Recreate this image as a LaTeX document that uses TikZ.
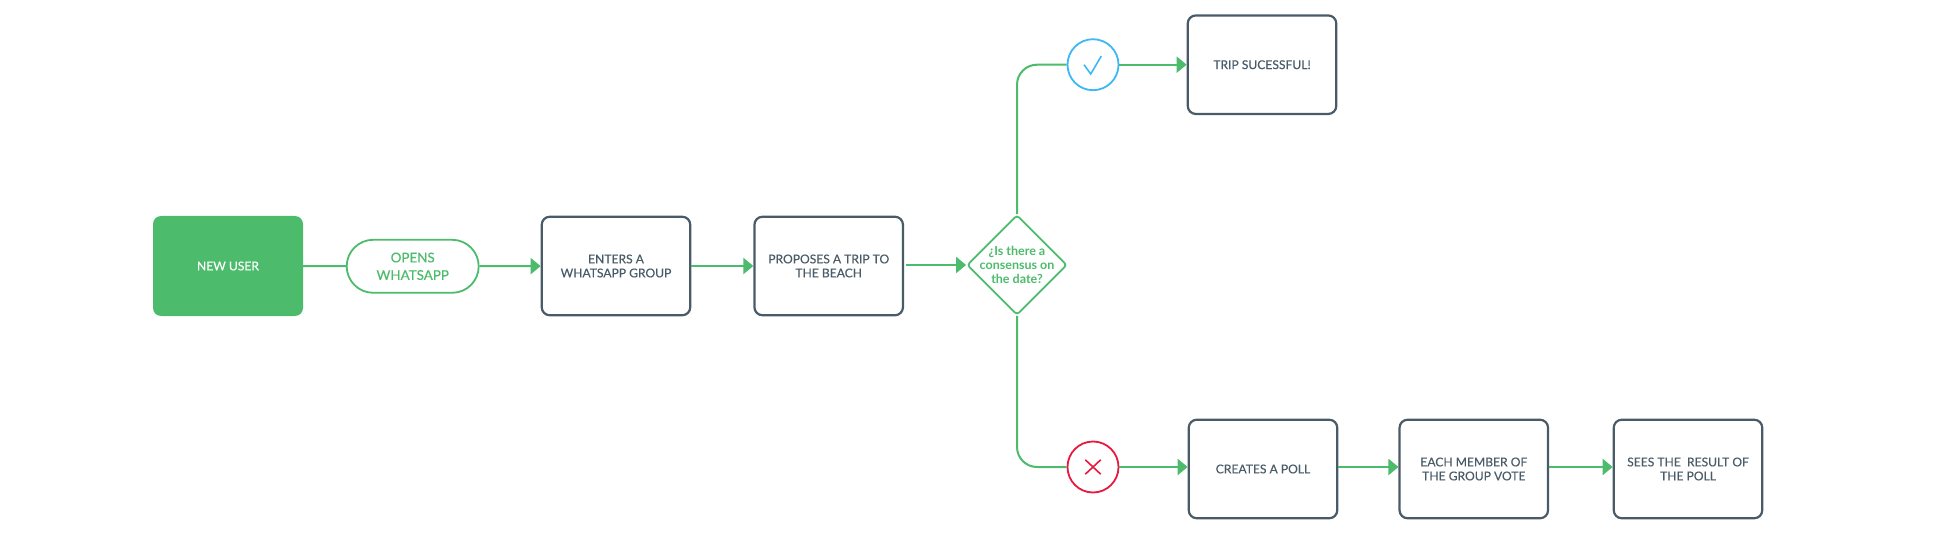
\documentclass[tikz,border=0pt]{standalone}
\usepackage{fontspec}
\setmainfont{Lato}
\newfontfamily\mediumfont[FakeBold=0.3]{Lato}
\usetikzlibrary{arrows.meta, shapes.geometric, shapes.misc}
\definecolor{flowgreen}{HTML}{4CBB6C}
\definecolor{slate}{HTML}{4A5B68}
\definecolor{okblue}{HTML}{3DB8F5}
\definecolor{nored}{HTML}{E8193F}
\begin{document}
\begin{tikzpicture}[
        x=1pt, y=-1pt,
        startbox/.style={rectangle, rounded corners=8pt, fill=flowgreen, text=white, minimum width=150pt, minimum height=100pt, inner sep=0pt, font=\mediumfont\fontsize{12.1}{14}\selectfont},
        pill/.style={rounded rectangle, draw=flowgreen, line width=1.8pt, text=flowgreen, minimum width=132pt, minimum height=53pt, inner sep=0pt, align=center, font=\mediumfont\fontsize{13.4}{17.5}\selectfont},
        stepbox/.style={rectangle, rounded corners=8pt, draw=slate, line width=2.2pt, text=slate, minimum width=148.5pt, minimum height=98.5pt, inner sep=0pt, align=center, font=\mediumfont\fontsize{12.1}{14}\selectfont},
        decision/.style={diamond, draw=flowgreen, line width=1.8pt, rounded corners=3pt, minimum width=100pt, minimum height=100pt, inner sep=0pt},
        decisiontext/.style={text=flowgreen, align=center, inner sep=0pt, font=\fontsize{12.5}{14}\selectfont\bfseries},
        badge/.style={circle, line width=1.8pt, minimum size=51pt, inner sep=0pt},
        arrow/.style={-{Triangle[length=10pt, width=16pt]}, flowgreen, line width=2pt},
        link/.style={flowgreen, line width=2pt}
    ]
    \useasboundingbox (0,0) rectangle (1956,545);
    % Nodes
    \node[startbox] (user) at (228,266) {NEW USER};
    \node[pill] (opens) at (412.7,266.3) {OPENS\\WHATSAPP};
    \node[stepbox] (group) at (616,266) {ENTERS A\\WHATSAPP GROUP};
    \node[stepbox] (trip) at (828.7,266) {PROPOSES A TRIP TO\\THE BEACH};
    \node[decision] (consensus) at (1017,265) {};
    \node[decisiontext] (question) at (1017,265) {¿Is there a\\consensus on\\the date?};
    \node[badge, draw=okblue] (okay) at (1093,64.7) {};
    \node[badge, draw=nored] (nope) at (1093,467) {};
    \node[stepbox] (success) at (1262,64.7) {TRIP SUCESSFUL!};
    \node[stepbox] (poll) at (1263,469) {CREATES A POLL};
    \node[stepbox] (vote) at (1473.8,469) {EACH MEMBER OF\\THE GROUP VOTE};
    \node[stepbox] (result) at (1688,469) {SEES THE\ \ RESULT OF\\THE POLL};
    % Edges
    \draw[link] (user) -- (opens);
    \draw[arrow] (opens) -- (group);
    \draw[arrow] (group) -- (trip);
    \draw[arrow, shorten <=2pt] (trip.east |- consensus) -- (consensus);
    \draw[link, rounded corners=20pt] (consensus.north) |- (okay.west);
    \draw[link, rounded corners=20pt] (consensus.south) |- (nope.west);
    \draw[arrow] (okay) -- (success.west |- okay);
    \draw[arrow] (nope) -- (poll.west |- nope);
    \draw[arrow] (poll.east |- nope) -- (vote.west |- nope);
    \draw[arrow] (vote.east |- nope) -- (result.west |- nope);
    % Marks
    \draw[okblue, line width=1.6pt] ([shift={(-9,0)}]okay.center) -- ([shift={(-2.3,9.3)}]okay.center) -- ([shift={(8.3,-8.7)}]okay.center);
    \draw[nored, line width=1.6pt] ([shift={(-7.7,-7.2)}]nope.center) -- ([shift={(7.7,7.2)}]nope.center);
    \draw[nored, line width=1.6pt] ([shift={(-7.7,7.2)}]nope.center) -- ([shift={(7.7,-7.2)}]nope.center);
    \end{tikzpicture}
\end{document}
